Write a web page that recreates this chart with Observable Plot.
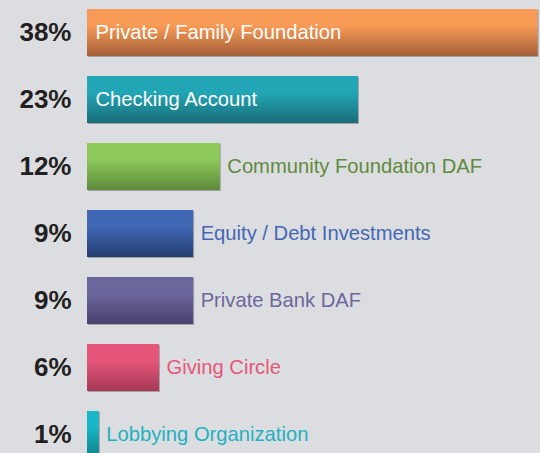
<!DOCTYPE html>
<html>
<head>
<meta charset="utf-8">
<script src="https://cdn.jsdelivr.net/npm/d3@7"></script>
<script src="https://cdn.jsdelivr.net/npm/@observablehq/plot@0.6"></script>
<style>
html, body { margin: 0; padding: 0; background: #dcdde0; overflow: hidden; }
#chart svg { display: block; }
</style>
</head>
<body>
<div id="chart"></div>
<script>
const categories = ["Private / Family Foundation", "Checking Account", "Community Foundation DAF", "Equity / Debt Investments", "Private Bank DAF", "Giving Circle", "Lobbying Organization"];
// bar lengths as drawn in the picture
const values = [38, 22.85, 11.2, 8.95, 8.95, 6.07, 1.0];
const percentLabels = ["38%", "23%", "12%", "9%", "9%", "6%", "1%"];
const topColors = ["#f89b56", "#22a6b6", "#8dc95b", "#4068b5", "#6b669b", "#e6567b", "#18b6c6"];
const bottomColors = ["#a35f38", "#1a6d79", "#5d8939", "#243e70", "#48426e", "#a53954", "#0f7e88"];
const labelColors = ["#ffffff", "#ffffff", "#5f8a3f", "#4467b5", "#6c679c", "#e4577c", "#1fb1c1"];
const labelInside = [true, true, false, false, false, false, false];

const data = categories.map((c, i) => ({
  category: c, value: values[i], pct: percentLabels[i],
  grad: `url(#grad${i})`, labelColor: labelColors[i], inside: labelInside[i]
}));

const chart = Plot.plot({
  width: 540,
  height: 453,
  marginLeft: 87,
  marginRight: 0,
  marginTop: 0,
  marginBottom: 0,
  style: { background: "transparent", fontFamily: "'Liberation Sans', Arial, sans-serif" },
  x: { domain: [0, 38.2], axis: null },
  y: { domain: categories, range: [-11.1, 478], padding: 0.3, axis: null },
  color: { type: "identity" },
  marks: [
    Plot.barX(data, { x: "value", y: "category", fill: "#a3a3a5", dx: 1, dy: 1 }),
    Plot.barX(data, { x: "value", y: "category", fill: "grad" }),
    Plot.text(data, { x: 0, y: "category", text: "pct", textAnchor: "end", dx: -16, fontSize: 26, fontWeight: "bold", fill: "#231f20" }),
    Plot.text(data.filter(d => d.inside), { x: 0, y: "category", text: "category", textAnchor: "start", dx: 8, fontSize: 20.2, fill: "labelColor" }),
    Plot.text(data.filter(d => !d.inside), { x: "value", y: "category", text: "category", textAnchor: "start", dx: 7, fontSize: 20.2, fill: "labelColor" })
  ]
});

const svg = d3.select(chart);
const defs = svg.insert("defs", ":first-child");
data.forEach((d, i) => {
  const g = defs.append("linearGradient").attr("id", `grad${i}`).attr("x1", 0).attr("y1", 0).attr("x2", 0).attr("y2", 1);
  g.append("stop").attr("offset", "0%").attr("stop-color", topColors[i]);
  g.append("stop").attr("offset", "35%").attr("stop-color", topColors[i]);
  g.append("stop").attr("offset", "100%").attr("stop-color", bottomColors[i]);
});

document.getElementById("chart").appendChild(chart);
</script>
</body>
</html>
